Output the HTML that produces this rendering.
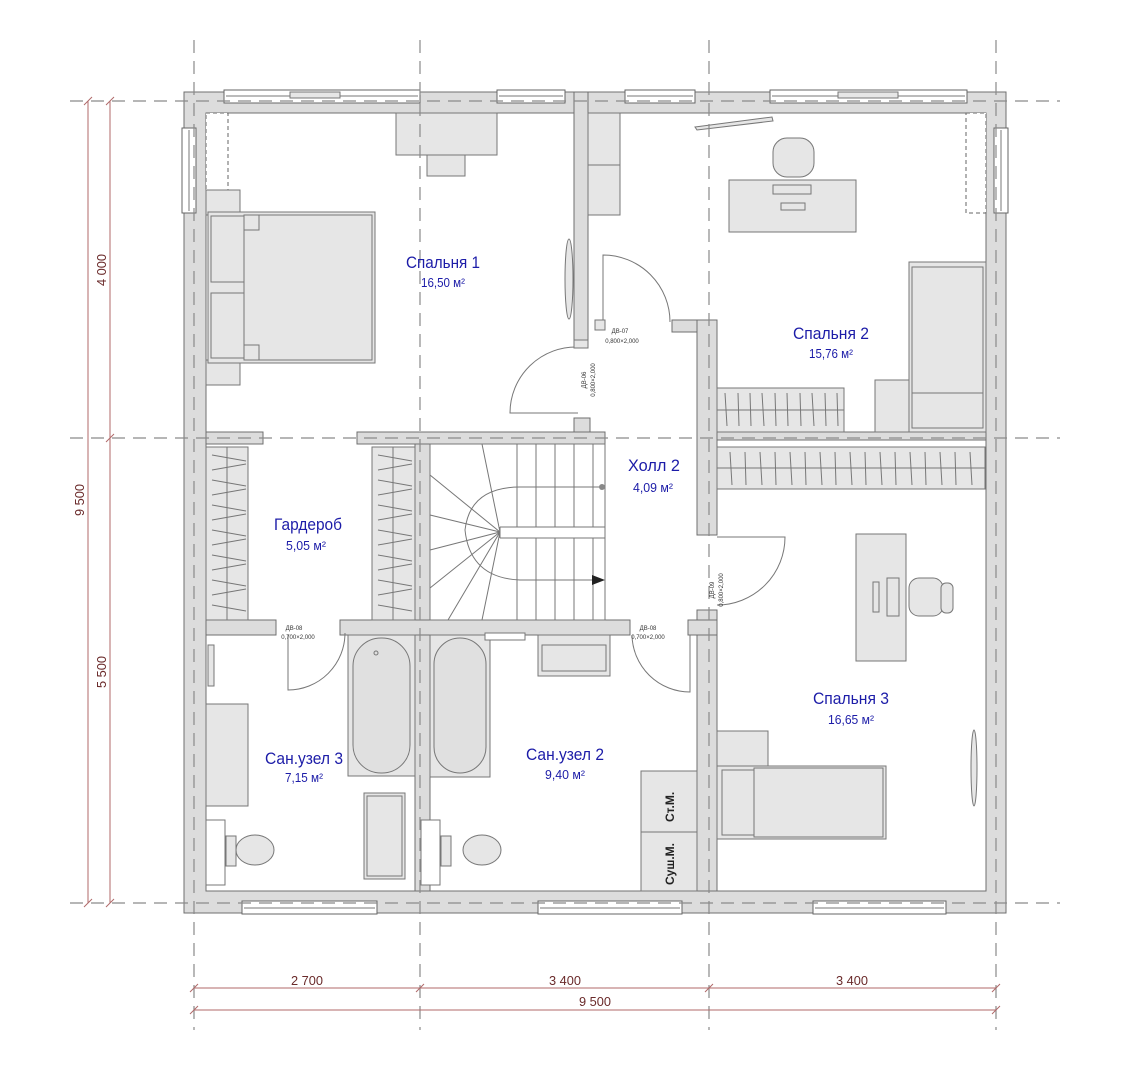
<!DOCTYPE html>
<html><head><meta charset="utf-8"><style>
html,body{margin:0;padding:0;background:#fff;}
svg{display:block;}
.w{fill:#dcdcdc;stroke:#6f6f6f;stroke-width:1;}
.f{fill:#e6e6e6;stroke:#777;stroke-width:1;}
.l{stroke:#777;stroke-width:1;fill:none;}
.ax{stroke:#8a8a8a;stroke-width:1.2;stroke-dasharray:13 8;fill:none;}
.dim{stroke:#b06a6a;stroke-width:1;fill:none;}
.dt{font-family:"Liberation Sans Narrow","Liberation Sans",sans-serif;font-size:13px;fill:#6a2a2a;}
.rn{font-family:"Liberation Sans Narrow","Liberation Sans",sans-serif;font-size:17px;fill:#1c1ca8;text-anchor:middle;}
.ra{font-family:"Liberation Sans Narrow","Liberation Sans",sans-serif;font-size:12.5px;fill:#1c1ca8;text-anchor:middle;}
.sm{font-family:"Liberation Sans Narrow","Liberation Sans",sans-serif;font-size:6px;fill:#333;text-anchor:middle;}
.win{fill:#fff;stroke:#666;stroke-width:1;}
</style></head><body>
<svg width="1128" height="1080" viewBox="0 0 1128 1080" xmlns="http://www.w3.org/2000/svg">
<path class="w" fill-rule="evenodd" d="M184,92H1006V913H184Z M206,113V891H986V113Z"/>
<rect class="w" x="574" y="92" width="14" height="253"/>
<rect class="w" x="574" y="418" width="16" height="14"/>
<rect class="w" x="672" y="320" width="45" height="12"/>
<rect class="w" x="697" y="320" width="20" height="215"/>
<rect class="w" x="717" y="432" width="269" height="8"/>
<rect class="w" x="697" y="610" width="20" height="281"/>
<rect class="w" x="206" y="432" width="57" height="12"/>
<rect class="w" x="357" y="432" width="248" height="12"/>
<rect class="w" x="415" y="444" width="15" height="176"/>
<rect class="w" x="206" y="620" width="70" height="15"/>
<rect class="w" x="340" y="620" width="290" height="15"/>
<rect class="w" x="688" y="620" width="29" height="15"/>
<rect class="w" x="415" y="635" width="15" height="256"/>
<g>
<rect class="win" x="224" y="90" width="196" height="13"/><line class="l" x1="226" y1="96" x2="418" y2="96"/><rect class="f" x="290" y="92" width="50" height="6"/>
<rect class="win" x="497" y="90" width="68" height="13"/><line class="l" x1="499" y1="96" x2="563" y2="96"/>
<rect class="win" x="625" y="90" width="70" height="13"/><line class="l" x1="627" y1="96" x2="693" y2="96"/>
<rect class="win" x="770" y="90" width="197" height="13"/><line class="l" x1="772" y1="96" x2="965" y2="96"/><rect class="f" x="838" y="92" width="60" height="6"/>
<rect class="win" x="182" y="128" width="14" height="85"/><line class="l" x1="189" y1="130" x2="189" y2="211"/>
<rect class="win" x="994" y="128" width="14" height="85"/><line class="l" x1="1001" y1="130" x2="1001" y2="211"/>
<rect class="win" x="242" y="901" width="135" height="13"/><line class="l" x1="244" y1="908" x2="375" y2="908"/>
<rect class="win" x="538" y="901" width="144" height="13"/><line class="l" x1="540" y1="908" x2="680" y2="908"/>
<rect class="win" x="813" y="901" width="133" height="13"/><line class="l" x1="815" y1="908" x2="944" y2="908"/>
<rect class="win" x="206" y="113" width="22" height="100" style="stroke-dasharray:4 3"/>
<rect class="win" x="966" y="113" width="20" height="100" style="stroke-dasharray:4 3"/>
</g>
<rect class="f" x="206" y="190" width="34" height="25"/><rect class="f" x="206" y="360" width="34" height="25"/>
<rect class="f" x="208" y="212" width="167" height="151"/>
<rect class="f" x="211" y="216" width="33" height="66"/><rect class="f" x="211" y="293" width="33" height="65"/>
<rect class="f" x="244" y="215" width="128" height="145"/>
<polyline class="l" points="244,230 259,230 259,215"/><polyline class="l" points="244,345 259,345 259,360"/>
<rect class="f" x="396" y="113" width="101" height="42"/><rect class="f" x="427" y="155" width="38" height="21"/>
<ellipse class="f" cx="569" cy="279" rx="4" ry="40"/>
<rect class="f" x="588" y="113" width="32" height="52"/><rect class="f" x="588" y="165" width="32" height="50"/>
<polygon class="f" points="695,127 772,117 773,121 697,130"/>
<rect class="f" x="773" y="138" width="41" height="39" rx="14"/>
<rect class="f" x="729" y="180" width="127" height="52"/>
<rect class="f" x="773" y="185" width="38" height="9"/><rect class="f" x="781" y="203" width="24" height="7"/>
<rect class="f" x="909" y="262" width="77" height="170"/><rect class="f" x="912" y="267" width="71" height="126"/><rect class="f" x="912" y="393" width="71" height="35"/>
<rect class="f" x="875" y="380" width="34" height="52"/>
<rect class="f" x="717" y="388" width="127" height="44"/><line class="l" x1="717" y1="410" x2="844" y2="410"/>
<g class="l"><path d="M725,393l2,33M738,393l1,33M750,393l1,33M762,393l2,33M775,393l1,33M787,393l1,33M800,393l1,33M812,393l2,33M825,393l1,33M837,393l1,33"/></g>
<rect class="f" x="717" y="447" width="268" height="42"/><line class="l" x1="717" y1="468" x2="985" y2="468"/>
<g class="l"><path d="M730,452l2,33M745,452l1,33M760,452l2,33M775,452l1,33M790,452l2,33M805,452l1,33M820,452l2,33M835,452l1,33M850,452l2,33M865,452l1,33M880,452l2,33M895,452l1,33M910,452l2,33M925,452l1,33M940,452l2,33M955,452l1,33M970,452l2,33"/></g>
<rect class="f" x="856" y="534" width="50" height="127"/>
<rect class="f" x="909" y="578" width="34" height="38" rx="10"/><rect class="f" x="941" y="583" width="12" height="30" rx="5"/>
<rect class="f" x="887" y="578" width="12" height="38"/><rect class="f" x="873" y="582" width="6" height="30"/>
<rect class="f" x="717" y="731" width="51" height="35"/>
<rect class="f" x="717" y="766" width="169" height="73"/><rect class="f" x="722" y="770" width="42" height="65"/><rect class="f" x="754" y="768" width="129" height="69"/>
<ellipse class="f" cx="974" cy="768" rx="3" ry="38"/>
<rect class="f" x="206" y="447" width="42" height="173"/><rect class="f" x="372" y="447" width="43" height="173"/>
<line class="l" x1="227" y1="447" x2="227" y2="620"/><line class="l" x1="393" y1="447" x2="393" y2="620"/>
<g class="l"><path d="M212,455l34,6M212,470l34,-6M212,480l34,6M212,495l34,-6M212,505l34,6M212,520l34,-6M212,530l34,6M212,545l34,-6M212,555l34,6M212,570l34,-6M212,580l34,6M212,595l34,-6M212,605l34,6"/>
<path d="M378,455l34,6M378,470l34,-6M378,480l34,6M378,495l34,-6M378,505l34,6M378,520l34,-6M378,530l34,6M378,545l34,-6M378,555l34,6M378,570l34,-6M378,580l34,6M378,595l34,-6M378,605l34,6"/></g>
<rect x="430" y="444" width="175" height="176" fill="#fff" stroke="#777"/>
<g class="l">
<path d="M517,444V527M536,444V527M555,444V527M574,444V527M593,444V527"/>
<path d="M517,538V620M536,538V620M555,538V620M574,538V620M593,538V620"/>
<path d="M500,527H605M500,538H605M500,527V538"/>
<path d="M500,532L430,475M500,532L482,444M500,532L430,515M500,532L430,550M500,532L430,588M500,532L448,620M500,532L482,620"/>
<path d="M600,487H520Q470,487 465,530Q470,578 520,580H598" />
</g>
<circle cx="602" cy="487" r="3" fill="#888"/>
<polygon points="592,575 605,580 592,585" fill="#222"/>
<rect class="f" x="208" y="645" width="6" height="41"/>
<rect class="f" x="206" y="704" width="42" height="102"/>
<rect x="206" y="820" width="19" height="65" fill="#fff" stroke="#777"/>
<rect class="f" x="226" y="836" width="10" height="30"/><ellipse class="f" cx="255" cy="850" rx="19" ry="15"/>
<rect class="f" x="348" y="635" width="67" height="141"/><rect x="353" y="638" width="57" height="135" rx="28" fill="#e0e0e0" stroke="#777"/>
<circle class="l" cx="376" cy="653" r="2"/><circle class="l" cx="460" cy="653" r="2"/>
<rect class="f" x="364" y="793" width="41" height="86"/><rect class="l" x="367" y="796" width="35" height="80"/>
<rect class="f" x="430" y="635" width="60" height="142"/><rect x="434" y="638" width="52" height="135" rx="26" fill="#e0e0e0" stroke="#777"/>
<rect x="485" y="633" width="40" height="7" fill="#fff" stroke="#777"/>
<rect class="f" x="538" y="635" width="72" height="41"/><rect class="l" x="542" y="645" width="64" height="26"/>
<rect x="421" y="820" width="19" height="65" fill="#fff" stroke="#777"/>
<rect class="f" x="441" y="836" width="10" height="30"/><ellipse class="f" cx="482" cy="850" rx="19" ry="15"/>
<rect class="f" x="641" y="771" width="56" height="61"/><rect class="f" x="641" y="832" width="56" height="59"/>
<text x="0" y="0" transform="translate(674,822) rotate(-90)" font-family="Liberation Sans,sans-serif" font-weight="bold" font-size="12" fill="#222">Ст.М.</text>
<text x="0" y="0" transform="translate(674,885) rotate(-90)" font-family="Liberation Sans,sans-serif" font-weight="bold" font-size="12" fill="#222">Суш.М.</text>
<g class="l">
<path d="M578,347A66,66 0 0 0 510,413H578"/>
<path d="M603,322V255A67,67 0 0 1 670,322"/>
<path d="M717,537H785A68,68 0 0 1 717,605"/>
<path d="M288,635V690A57,57 0 0 0 345,633"/>
<path d="M690,635V692A58,58 0 0 1 632,635"/>
</g>
<rect class="f" x="574" y="340" width="14" height="8"/><rect class="f" x="595" y="320" width="10" height="10"/>
<text class="sm" x="620" y="333">ДВ-07</text><text class="sm" x="622" y="343">0,800×2,000</text>
<text class="sm" transform="translate(586,380) rotate(-90)">ДВ-06</text><text class="sm" transform="translate(595,380) rotate(-90)">0,800×2,000</text>
<text class="sm" x="294" y="630">ДВ-08</text><text class="sm" x="298" y="639">0,700×2,000</text>
<text class="sm" x="648" y="630">ДВ-08</text><text class="sm" x="648" y="639">0,700×2,000</text>
<text class="sm" transform="translate(714,590) rotate(-90)">ДВ-09</text><text class="sm" transform="translate(723,590) rotate(-90)">0,800×2,000</text>
<g class="ax">
<path d="M70,101H1060M70,438H1060M70,903H1060"/>
<path d="M194,40V1030M420,40V1030M709,40V1030M996,40V1030"/>
</g>
<g class="dim">
<path d="M194,988H996M194,1010H996"/>
<path d="M88,101V903M110,101V903"/>
<path d="M190,992l8,-8M416,992l8,-8M705,992l8,-8M992,992l8,-8M190,1014l8,-8M992,1014l8,-8"/>
<path d="M84,105l8,-8M84,907l8,-8M106,105l8,-8M106,442l8,-8M106,907l8,-8"/>
</g>
<text class="dt" x="307" y="985" text-anchor="middle" textLength="32" lengthAdjust="spacingAndGlyphs">2 700</text>
<text class="dt" x="565" y="985" text-anchor="middle" textLength="32" lengthAdjust="spacingAndGlyphs">3 400</text>
<text class="dt" x="852" y="985" text-anchor="middle" textLength="32" lengthAdjust="spacingAndGlyphs">3 400</text>
<text class="dt" x="595" y="1006" text-anchor="middle" textLength="32" lengthAdjust="spacingAndGlyphs">9 500</text>
<text class="dt" transform="translate(106,270) rotate(-90)" text-anchor="middle" textLength="32" lengthAdjust="spacingAndGlyphs">4 000</text>
<text class="dt" transform="translate(84,500) rotate(-90)" text-anchor="middle" textLength="32" lengthAdjust="spacingAndGlyphs">9 500</text>
<text class="dt" transform="translate(106,672) rotate(-90)" text-anchor="middle" textLength="32" lengthAdjust="spacingAndGlyphs">5 500</text>
<text class="rn" x="443" y="268" textLength="74" lengthAdjust="spacingAndGlyphs">Спальня 1</text><text class="ra" x="443" y="287" textLength="44" lengthAdjust="spacingAndGlyphs">16,50 м²</text>
<text class="rn" x="831" y="339" textLength="76" lengthAdjust="spacingAndGlyphs">Спальня 2</text><text class="ra" x="831" y="358" textLength="44" lengthAdjust="spacingAndGlyphs">15,76 м²</text>
<text class="rn" x="654" y="471" textLength="52" lengthAdjust="spacingAndGlyphs">Холл 2</text><text class="ra" x="653" y="492" textLength="40" lengthAdjust="spacingAndGlyphs">4,09 м²</text>
<text class="rn" x="308" y="530" textLength="68" lengthAdjust="spacingAndGlyphs">Гардероб</text><text class="ra" x="306" y="550" textLength="40" lengthAdjust="spacingAndGlyphs">5,05 м²</text>
<text class="rn" x="304" y="764" textLength="78" lengthAdjust="spacingAndGlyphs">Сан.узел 3</text><text class="ra" x="304" y="782" textLength="38" lengthAdjust="spacingAndGlyphs">7,15 м²</text>
<text class="rn" x="565" y="760" textLength="78" lengthAdjust="spacingAndGlyphs">Сан.узел 2</text><text class="ra" x="565" y="779" textLength="40" lengthAdjust="spacingAndGlyphs">9,40 м²</text>
<text class="rn" x="851" y="704" textLength="76" lengthAdjust="spacingAndGlyphs">Спальня 3</text><text class="ra" x="851" y="724" textLength="46" lengthAdjust="spacingAndGlyphs">16,65 м²</text>
</svg>
</body></html>
